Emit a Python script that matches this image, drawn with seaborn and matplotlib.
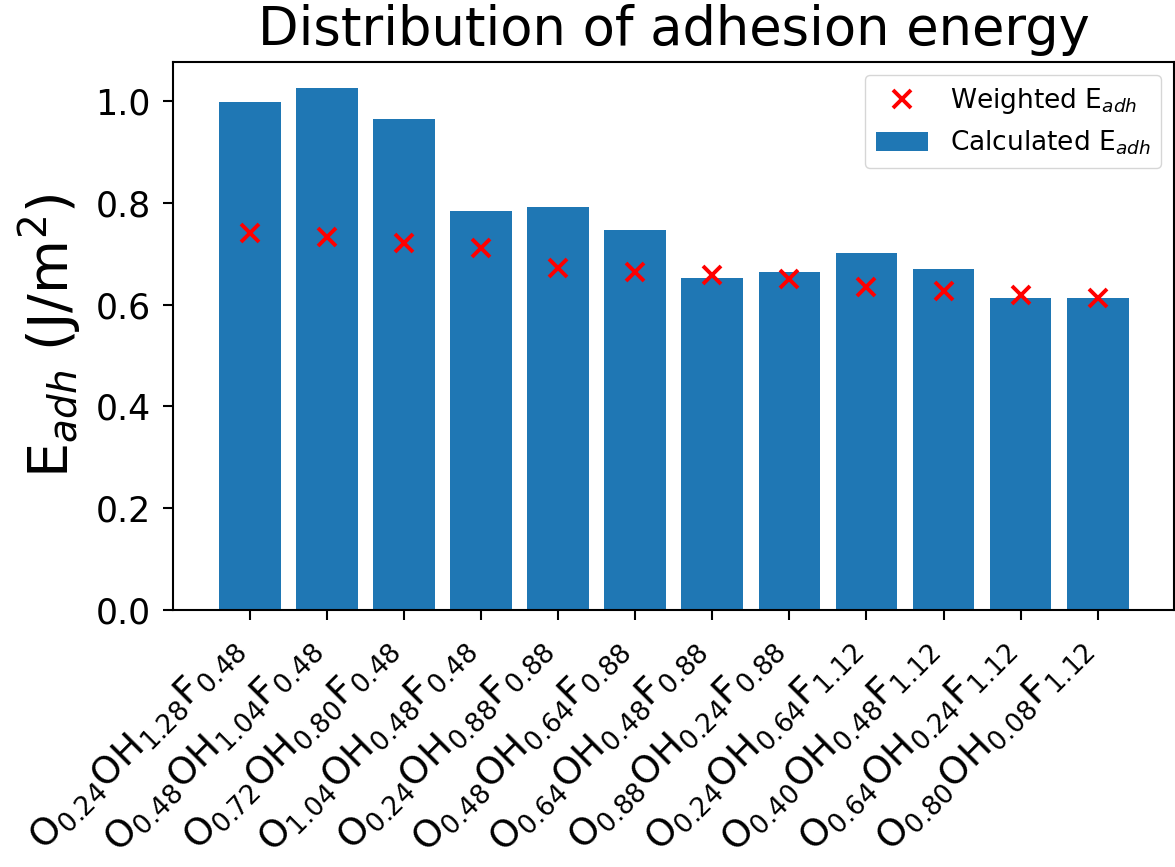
import matplotlib
matplotlib.use("Agg")
import matplotlib.pyplot as plt
import seaborn as sns
import pandas as pd

categories = [
    r"O$_{0.24}$OH$_{1.28}$F$_{0.48}$",
    r"O$_{0.48}$OH$_{1.04}$F$_{0.48}$",
    r"O$_{0.72}$OH$_{0.80}$F$_{0.48}$",
    r"O$_{1.04}$OH$_{0.48}$F$_{0.48}$",
    r"O$_{0.24}$OH$_{0.88}$F$_{0.88}$",
    r"O$_{0.48}$OH$_{0.64}$F$_{0.88}$",
    r"O$_{0.64}$OH$_{0.48}$F$_{0.88}$",
    r"O$_{0.88}$OH$_{0.24}$F$_{0.88}$",
    r"O$_{0.24}$OH$_{0.64}$F$_{1.12}$",
    r"O$_{0.40}$OH$_{0.48}$F$_{1.12}$",
    r"O$_{0.64}$OH$_{0.24}$F$_{1.12}$",
    r"O$_{0.80}$OH$_{0.08}$F$_{1.12}$",
]
calculated = [0.998, 1.025, 0.965, 0.785, 0.792, 0.746, 0.652, 0.664, 0.702, 0.671, 0.614, 0.614]
weighted = [0.740, 0.733, 0.722, 0.711, 0.673, 0.665, 0.658, 0.650, 0.635, 0.627, 0.620, 0.613]
yticks = [0.0, 0.2, 0.4, 0.6, 0.8, 1.0]

df = pd.DataFrame({"composition": categories, "calculated": calculated, "weighted": weighted})

fig = plt.figure(figsize=(11.75, 8.67), dpi=100)
ax = fig.add_axes([173 / 1175, 1 - 610 / 867, (1174 - 173) / 1175, (610 - 62) / 867])

sns.barplot(data=df, x="composition", y="calculated", color="#1f77b4", saturation=1,
            width=0.8, label="Calculated E$_{adh}$", ax=ax)
sns.pointplot(data=df, x="composition", y="weighted", color="red", linestyle="none",
              marker="x", markersize=13, markeredgewidth=2.8,
              label="Weighted E$_{adh}$", ax=ax)

ax.set_title("Distribution of adhesion energy", fontsize=38, pad=12)
ax.set_ylabel("E$_{adh}$ (J/m$^2$)", fontsize=40, labelpad=8)
ax.set_xlabel("")
ax.set_xlim(-0.997, 11.99)
ax.set_ylim(0, 1.077)
ax.set_yticks(yticks)
ax.tick_params(axis="both", length=7, width=1.5, pad=7)
ax.tick_params(axis="y", labelsize=25, pad=9)
ax.tick_params(axis="x", labelsize=27)
for lbl in ax.get_xticklabels():
    lbl.set_rotation(45)
    lbl.set_ha("right")
for s in ax.spines.values():
    s.set_visible(True)
    s.set_color("black")
    s.set_linewidth(1.5)
ax.legend(loc="upper right", fontsize=19)

fig.savefig("out.png", dpi=100)
